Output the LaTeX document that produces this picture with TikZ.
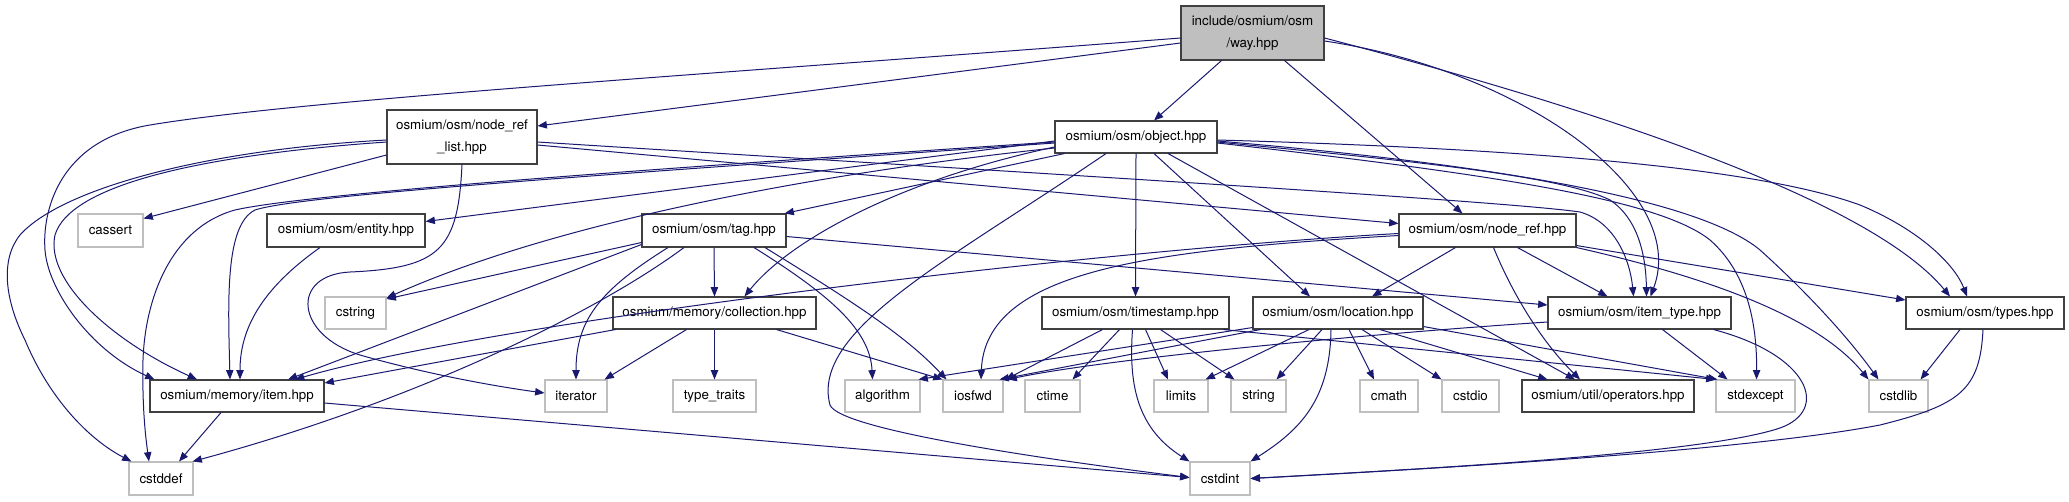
\documentclass[tikz,border=0pt]{standalone}
\usepackage{fontspec}
\setmainfont{TeX Gyre Heros}
\usetikzlibrary{arrows.meta,calc}
\definecolor{edgeblue}{HTML}{191970}
\definecolor{boxgray}{HTML}{BFBFBF}
\definecolor{boxdark}{HTML}{404040}
\tikzset{
  fbox/.style={draw=boxdark, line width=0.8pt, fill=white, inner sep=0pt,
    font=\fontsize{10}{17}\selectfont, align=center},
  gbox/.style={fbox, draw=boxgray},
  dep/.style={draw=edgeblue, line width=0.75pt, -{Triangle[length=7pt,width=5.5pt]}},
}
\begin{document}
\begin{tikzpicture}[x=0.75pt, y=-0.75pt]
\fill[white] (0,0) rectangle (2069,501);
\useasboundingbox (0,0) rectangle (2069,501);
% ---------- nodes ----------
\node[fbox, fill=boxgray, minimum width=107.25pt, minimum height=40.5pt] (way) at (1252.5,33) {include/osmium/osm\\/way.hpp};
\node[fbox, minimum width=112.5pt, minimum height=40.5pt] (nrl) at (462,137) {osmium/osm/node\_ref\\\_list.hpp};
\node[fbox, minimum width=121.5pt, minimum height=24pt] (object) at (1136,137) {osmium/osm/object.hpp};
\node[gbox, minimum width=48.75pt, minimum height=24.75pt] (cassert) at (110.5,230.5) {cassert};
\node[fbox, minimum width=118.5pt, minimum height=24.75pt] (entity) at (346,230.5) {osmium/osm/entity.hpp};
\node[fbox, minimum width=108pt, minimum height=24.75pt] (tag) at (714,230.5) {osmium/osm/tag.hpp};
\node[fbox, minimum width=132.75pt, minimum height=24.75pt] (noderef) at (1487.5,230.5) {osmium/osm/node\_ref.hpp};
\node[gbox, minimum width=45.75pt, minimum height=24pt] (cstring) at (355.5,313) {cstring};
\node[fbox, minimum width=152.25pt, minimum height=24pt] (collection) at (714.5,313) {osmium/memory/collection.hpp};
\node[fbox, minimum width=140.25pt, minimum height=24pt] (timestamp) at (1135.5,313) {osmium/osm/timestamp.hpp};
\node[fbox, minimum width=127.5pt, minimum height=24pt] (location) at (1338,313) {osmium/osm/location.hpp};
\node[fbox, minimum width=137.25pt, minimum height=24pt] (itemtype) at (1639.5,313) {osmium/osm/item\_type.hpp};
\node[fbox, minimum width=118.5pt, minimum height=24pt] (types) at (1985,313) {osmium/osm/types.hpp};
\node[fbox, minimum width=130.5pt, minimum height=24pt] (item) at (237,396) {osmium/memory/item.hpp};
\node[gbox, minimum width=46.5pt, minimum height=24pt] (iterator) at (576,396) {iterator};
\node[gbox, minimum width=62.25pt, minimum height=24pt] (typetraits) at (714.5,396) {type\_traits};
\node[gbox, minimum width=56.25pt, minimum height=24pt] (algorithm) at (882.5,396) {algorithm};
\node[gbox, minimum width=45pt, minimum height=24pt] (iosfwd) at (973,396) {iosfwd};
\node[gbox, minimum width=41.25pt, minimum height=24pt] (ctime) at (1052.5,396) {ctime};
\node[gbox, minimum width=40.5pt, minimum height=24pt] (limits) at (1181,396) {limits};
\node[gbox, minimum width=41.25pt, minimum height=24pt] (string) at (1258.5,396) {string};
\node[gbox, minimum width=43.5pt, minimum height=24pt] (cmath) at (1389,396) {cmath};
\node[gbox, minimum width=42.75pt, minimum height=24pt] (cstdio) at (1470.5,396) {cstdio};
\node[fbox, minimum width=129pt, minimum height=24pt] (operators) at (1608,396) {osmium/util/operators.hpp};
\node[gbox, minimum width=59.25pt, minimum height=24pt] (stdexcept) at (1755.5,396) {stdexcept};
\node[gbox, minimum width=44.25pt, minimum height=24pt] (cstdlib) at (1898.5,396) {cstdlib};
\node[gbox, minimum width=48pt, minimum height=24.75pt] (cstddef) at (161,478.5) {cstddef};
\node[gbox, minimum width=45pt, minimum height=24.75pt] (cstdint) at (1220,478.5) {cstdint};
% ---------- edges: way ----------
\draw[dep] ($(way.south)+(-31,0)$) -- ($(object.north)+(18,0)$);
\draw[dep] ($(way.west)+(0,10)$) -- ($(nrl.east)+(0,-11)$);
\draw[dep] ($(way.west)+(0,5)$) .. controls (700,75) and (300,100) .. (150,125) .. controls (60,140) and (42,210) .. (45,250) .. controls (48,290) and (90,350) .. ($(item.north west)+(5,0)$);
\draw[dep] ($(way.south)+(32,0)$) -- ($(noderef.north)+(-25,0)$);
\draw[dep] ($(way.east)+(0,8)$) .. controls (1520,70) and (1690,190) .. ($(itemtype.north)+(11,0)$);
\draw[dep] ($(way.east)+(0,5)$) .. controls (1600,110) and (1870,200) .. ($(types.north)+(-35,0)$);
% ---------- edges: node_ref_list ----------
\draw[dep] ($(nrl.west)+(0,18)$) -- ($(cassert.east)+(0,-12)$);
\draw[dep] ($(nrl.west)+(0,3)$) .. controls (200,150) and (60,190) .. (20,235) .. controls (0,260) and (5,300) .. (25,340) .. controls (50,400) and (90,440) .. ($(cstddef.north west)+(3,0)$);
\draw[dep] ($(nrl.west)+(0,5)$) .. controls (200,155) and (70,185) .. (55,235) .. controls (45,280) and (110,340) .. ($(item.north)+(-40,0)$);
\draw[dep] (nrl.south) .. controls (458,250) and (440,268) .. (350,272) .. controls (290,275) and (295,335) .. (360,355) .. controls (430,375) and (500,387) .. ($(iterator.west)+(0,-3)$);
\draw[dep] ($(nrl.east)+(0,5)$) .. controls (900,165) and (1500,200) .. (1580,212) .. controls (1615,222) and (1630,260) .. ($(itemtype.north)+(-6,0)$);
\draw[dep] ($(nrl.east)+(0,8)$) -- ($(noderef.west)+(0,-7)$);
% ---------- edges: object ----------
\draw[dep] ($(object.west)+(0,6)$) .. controls (600,175) and (300,195) .. (255,210) .. controls (225,225) and (228,300) .. ($(item.north)+(-7,0)$);
\draw[dep] ($(object.west)+(0,5)$) .. controls (600,172) and (300,195) .. (235,210) .. controls (170,228) and (145,300) .. (143,360) .. controls (142,410) and (146,440) .. ($(cstddef.north)+(-12,0)$);
\draw[dep] ($(object.west)+(0,11)$) .. controls (800,175) and (550,225) .. ($(cstring.east)+(0,-15)$);
\draw[dep] ($(object.west)+(0,4)$) -- ($(entity.east)+(0,-9)$);
\draw[dep] ($(object.south west)+(10,0)$) -- ($(tag.north east)+(-2,0)$);
\draw[dep] ($(object.west)+(0,10)$) .. controls (900,180) and (790,240) .. ($(collection.north)+(30,0)$);
\draw[dep] ($(object.south)+(-30,0)$) .. controls (950,260) and (810,330) .. (830,405) .. controls (840,430) and (1050,460) .. ($(cstdint.west)+(0,-1)$);
\draw[dep] (object.south) -- (timestamp.north);
\draw[dep] ($(object.south)+(18,0)$) -- ($(location.north)+(-28,0)$);
\draw[dep] ($(object.south)+(32,0)$) -- ($(operators.north)+(-33,0)$);
\draw[dep] ($(object.east)+(0,5)$) .. controls (1400,160) and (1560,175) .. (1610,200) .. controls (1640,220) and (1646,260) .. ($(itemtype.north)+(7,0)$);
\draw[dep] ($(object.east)+(0,3)$) .. controls (1500,148) and (1750,165) .. (1860,205) .. controls (1920,230) and (1955,265) .. ($(types.north)+(-18,0)$);
\draw[dep] ($(object.east)+(0,4)$) .. controls (1500,165) and (1700,200) .. (1760,250) .. controls (1810,295) and (1850,340) .. ($(cstdlib.north west)+(10,0)$);
\draw[dep] ($(object.east)+(0,6)$) .. controls (1500,175) and (1660,200) .. (1710,240) .. controls (1750,275) and (1757,330) .. ($(stdexcept.north)+(1,0)$);
% ---------- edges: entity ----------
\draw[dep] ($(entity.south)+(-26,0)$) .. controls (260,290) and (240,330) .. ($(item.north)+(3,0)$);
% ---------- edges: tag ----------
\draw[dep] ($(tag.west)+(0,12)$) -- ($(cstring.east)+(0,-14)$);
\draw[dep] ($(tag.west)+(0,14)$) -- ($(item.north)+(51,0)$);
\draw[dep] ($(tag.south)+(-30,0)$) .. controls (600,310) and (420,400) .. ($(cstddef.north east)+(-1,0)$);
\draw[dep] ($(tag.south)+(-46,0)$) .. controls (600,290) and (576,320) .. (iterator.north);
\draw[dep] (tag.south) -- (collection.north);
\draw[dep] ($(tag.south)+(40,0)$) .. controls (830,295) and (870,330) .. ($(algorithm.north)+(-10,0)$);
\draw[dep] ($(tag.south)+(51,0)$) .. controls (850,300) and (905,335) .. ($(iosfwd.north west)+(4,0)$);
\draw[dep] ($(tag.east)+(0,6)$) -- ($(itemtype.west)+(0,-8)$);
% ---------- edges: collection ----------
\draw[dep] ($(collection.south west)+(3,0)$) -- ($(item.east)+(0,-13)$);
\draw[dep] ($(collection.south)+(-28,0)$) -- ($(iterator.north east)+(-3,0)$);
\draw[dep] (collection.south) -- (typetraits.north);
\draw[dep] ($(collection.south east)+(-40,0)$) -- (iosfwd.north west);
% ---------- edges: item ----------
\draw[dep] ($(item.south)+(-16,0)$) -- ($(cstddef.north)+(18,0)$);
\draw[dep] ($(item.east)+(0,7)$) -- ($(cstdint.west)+(0,-1)$);
% ---------- edges: node_ref ----------
\draw[dep] ($(noderef.west)+(0,3)$) .. controls (1100,250) and (500,320) .. ($(item.north)+(58,0)$);
\draw[dep] ($(noderef.west)+(0,5)$) .. controls (1150,250) and (985,270) .. ($(iosfwd.north)+(8,0)$);
\draw[dep] ($(noderef.south)+(-32,0)$) -- ($(location.north)+(34,0)$);
\draw[dep] ($(noderef.south)+(6,0)$) .. controls (1515,300) and (1545,345) .. ($(operators.north)+(-28,0)$);
\draw[dep] ($(noderef.south)+(30,0)$) -- ($(itemtype.north)+(-32,0)$);
\draw[dep] ($(noderef.south east)+(0,-2)$) -- ($(types.west)+(0,-13)$);
\draw[dep] (noderef.south east) .. controls (1720,280) and (1820,320) .. (cstdlib.north west);
% ---------- edges: location ----------
\draw[dep] ($(location.south west)+(0,-2)$) -- ($(algorithm.north east)+(-2,0)$);
\draw[dep] ($(location.south west)+(8,0)$) -- ($(iosfwd.north east)+(-4,0)$);
\draw[dep] ($(location.south)+(-29,0)$) -- ($(limits.north east)+(-3,0)$);
\draw[dep] ($(location.south)+(-16,0)$) -- ($(string.north)+(18,0)$);
\draw[dep] ($(location.south)+(-7,0)$) .. controls (1330,400) and (1300,430) .. (cstdint.north east);
\draw[dep] ($(location.south)+(11,0)$) -- ($(cmath.north)+(-15,0)$);
\draw[dep] ($(location.south)+(24,0)$) -- (cstdio.north west);
\draw[dep] ($(location.south)+(42,0)$) -- ($(operators.north west)+(26,0)$);
\draw[dep] ($(location.south east)+(0,-3)$) -- ($(stdexcept.north west)+(2,0)$);
% ---------- edges: timestamp ----------
\draw[dep] ($(timestamp.south)+(-33,0)$) -- ($(iosfwd.north east)+(2,0)$);
\draw[dep] ($(timestamp.south)+(-16,0)$) -- ($(ctime.north)+(20,0)$);
\draw[dep] ($(timestamp.south)+(-3,0)$) .. controls (1128,390) and (1140,430) .. (cstdint.north west);
\draw[dep] ($(timestamp.south)+(10,0)$) -- ($(limits.north)+(-13,0)$);
\draw[dep] ($(timestamp.south)+(25,0)$) -- ($(string.north west)+(4,0)$);
\draw[dep] ($(timestamp.south east)+(-6,0)$) -- (stdexcept.north west);
% ---------- edges: item_type ----------
\draw[dep] ($(itemtype.west)+(0,9)$) .. controls (1350,335) and (1100,360) .. ($(iosfwd.north east)+(4,0)$);
\draw[dep] ($(itemtype.south)+(23,0)$) -- ($(stdexcept.north)+(-28,0)$);
\draw[dep] ($(itemtype.south east)+(-18,0)$) .. controls (1810,355) and (1830,410) .. (1780,428) .. controls (1700,455) and (1400,470) .. (cstdint.east);
% ---------- edges: types ----------
\draw[dep] ($(types.south)+(-25,0)$) -- ($(cstdlib.north east)+(-8,0)$);
\draw[dep] ($(types.south)+(-2,0)$) .. controls (1980,390) and (1960,405) .. (1880,425) .. controls (1750,450) and (1450,468) .. (cstdint.east);
\end{tikzpicture}
\end{document}
